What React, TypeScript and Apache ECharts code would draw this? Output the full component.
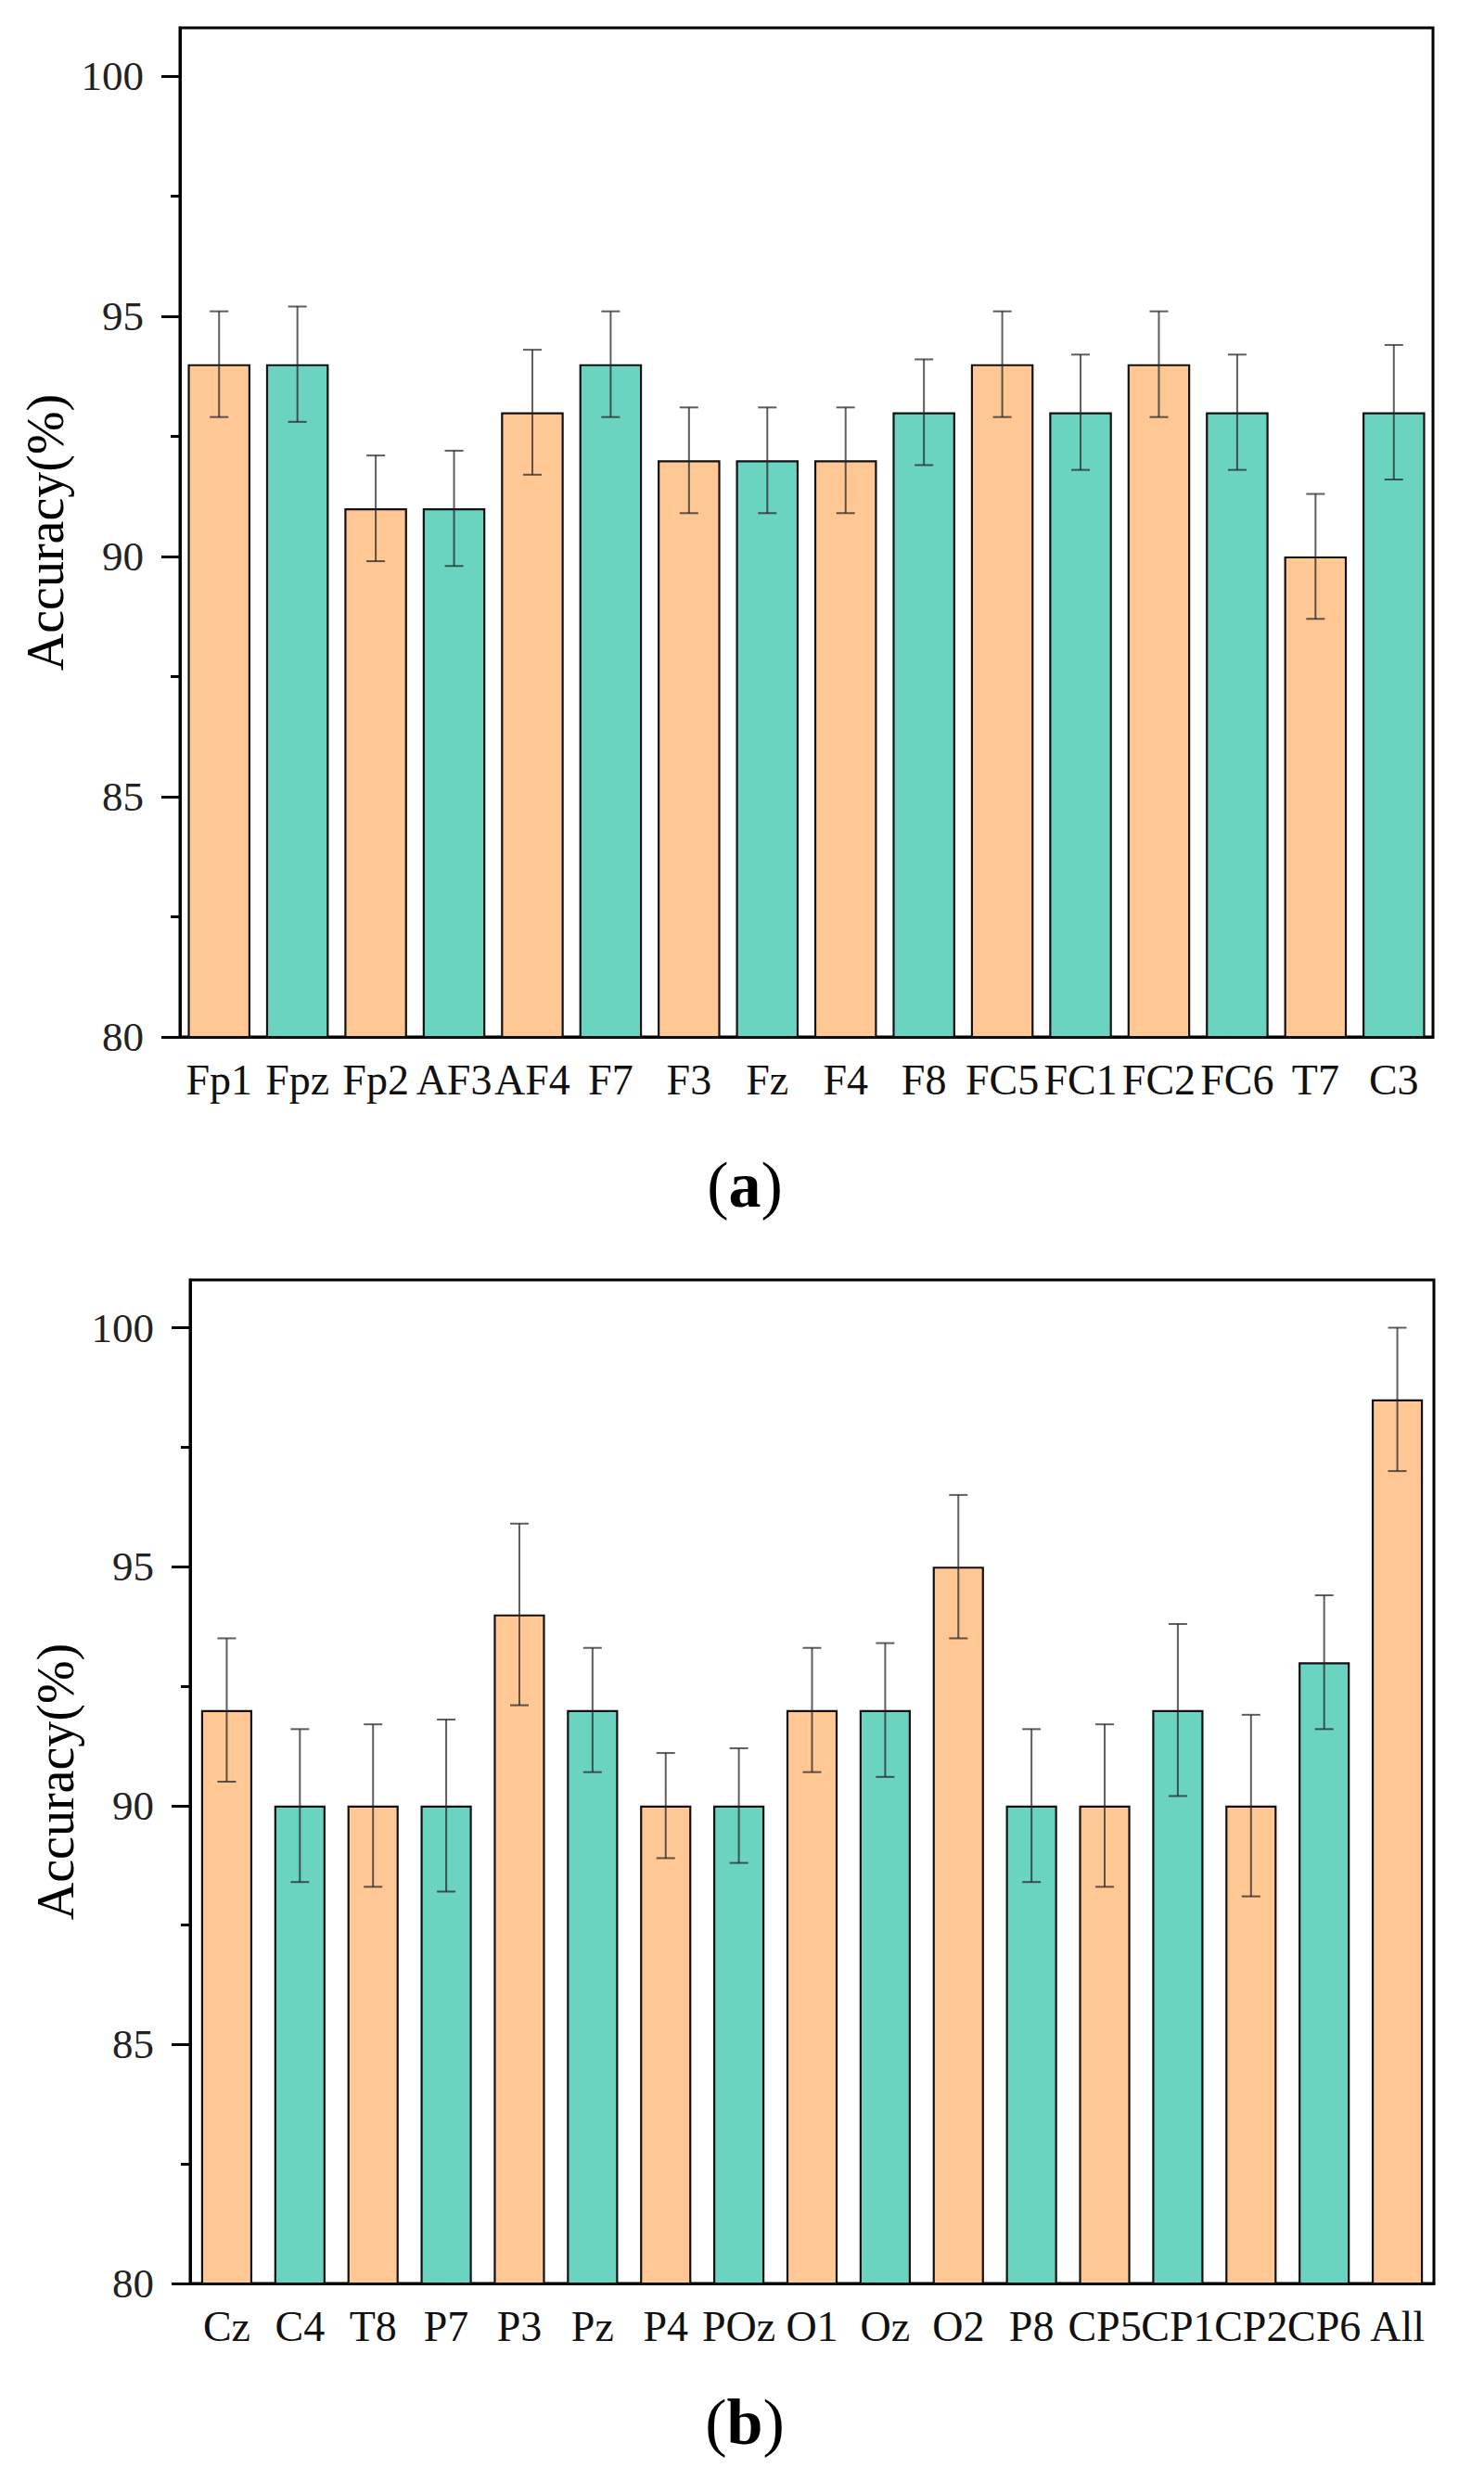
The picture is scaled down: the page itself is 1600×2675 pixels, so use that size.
import React, { useEffect, useRef } from 'react';
import * as echarts from 'echarts';

const categoriesA = ['Fp1', 'Fpz', 'Fp2', 'AF3', 'AF4', 'F7', 'F3', 'Fz', 'F4', 'F8', 'FC5', 'FC1', 'FC2', 'FC6', 'T7', 'C3'];
const valuesA = [94, 94, 91, 91, 93, 94, 92, 92, 92, 93, 94, 93, 94, 93, 90, 93];
const errorsA = [1.1, 1.2, 1.1, 1.2, 1.3, 1.1, 1.1, 1.1, 1.1, 1.1, 1.1, 1.2, 1.1, 1.2, 1.3, 1.4];

const categoriesB = ['Cz', 'C4', 'T8', 'P7', 'P3', 'Pz', 'P4', 'POz', 'O1', 'Oz', 'O2', 'P8', 'CP5', 'CP1', 'CP2', 'CP6', 'All'];
const valuesB = [92, 90, 90, 90, 94, 92, 90, 90, 92, 92, 95, 90, 90, 92, 90, 93, 98.5];
const errorsB = [1.5, 1.6, 1.7, 1.8, 1.9, 1.3, 1.1, 1.2, 1.3, 1.4, 1.5, 1.6, 1.7, 1.8, 1.9, 1.4, 1.5];

const yTickValues = [80, 85, 90, 95, 100];
const yMin = 80;
const yMax = 101;

const ORANGE = '#FEC794';
const TEAL = '#6AD4C1';
const FONT = "'Liberation Serif', 'Times New Roman', serif";

function makeYAxis(gridIndex: number) {
  return {
    type: 'value',
    gridIndex,
    min: yMin,
    max: yMax,
    interval: 5,
    name: 'Accuracy(%)',
    nameLocation: 'middle',
    nameRotate: 90,
    nameGap: 115,
    nameTextStyle: { fontSize: 56, fontFamily: FONT, color: '#000' },
    axisLine: { show: true, lineStyle: { color: '#000', width: 3 } },
    axisTick: { show: true, length: 20, customValues: yTickValues, lineStyle: { color: '#000', width: 3 } },
    minorTick: { show: true, splitNumber: 2, length: 10, lineStyle: { color: '#000', width: 3 } },
    splitLine: { show: false },
    minorSplitLine: { show: false },
    axisLabel: {
      customValues: yTickValues,
      fontSize: 45,
      fontFamily: FONT,
      color: '#222',
      margin: 39,
      formatter: (v: number) => (v > 100 ? '' : String(v)),
    },
  };
}

function makeXAxis(gridIndex: number, cats: string[]) {
  return {
    type: 'category',
    gridIndex,
    data: cats,
    axisLine: { show: true, lineStyle: { color: '#000', width: 3 } },
    axisTick: { show: false },
    splitLine: { show: false },
    axisLabel: { interval: 0, fontSize: 46, fontFamily: FONT, color: '#111', margin: 23 },
  };
}

function barSeries(idx: number, values: number[], gap: string) {
  return {
    type: 'bar',
    xAxisIndex: idx,
    yAxisIndex: idx,
    barCategoryGap: gap,
    z: 2,
    data: values.map((v, i) => ({
      value: v,
      itemStyle: { color: i % 2 === 0 ? ORANGE : TEAL, borderColor: '#111', borderWidth: 2.2 },
    })),
  };
}

function errorSeries(idx: number, values: number[], errors: number[]) {
  return {
    type: 'custom',
    xAxisIndex: idx,
    yAxisIndex: idx,
    z: 3,
    encode: { x: 0, y: 1 },
    data: values.map((v, i) => [i, v, errors[i]]),
    renderItem: (params: any, api: any) => {
      const x = api.value(0);
      const v = api.value(1);
      const e = api.value(2);
      const top = api.coord([x, v + e]);
      const bot = api.coord([x, v - e]);
      const cap = 10;
      const style = { stroke: 'rgba(40,40,40,0.75)', lineWidth: 2 };
      return {
        type: 'group',
        children: [
          { type: 'line', shape: { x1: top[0], y1: top[1], x2: bot[0], y2: bot[1] }, style },
          { type: 'line', shape: { x1: top[0] - cap, y1: top[1], x2: top[0] + cap, y2: top[1] }, style },
          { type: 'line', shape: { x1: bot[0] - cap, y1: bot[1], x2: bot[0] + cap, y2: bot[1] }, style },
        ],
      };
    },
  };
}

function caption(letter: string, x: number, y: number) {
  return {
    type: 'text',
    x,
    y,
    style: {
      text: '{p|(}{b|' + letter + '}{p|)}',
      align: 'center',
      verticalAlign: 'middle',
      rich: {
        p: { fontSize: 70, fontFamily: FONT, fill: '#000', color: '#000' },
        b: { fontSize: 70, fontFamily: FONT, fontWeight: 'bold', fill: '#000', color: '#000' },
      },
    },
  };
}

export default function App() {
  const ref = useRef<HTMLDivElement>(null);
  useEffect(() => {
    if (!ref.current) return;
    document.body.style.margin = '0';
    const chart = echarts.init(ref.current, undefined, { renderer: 'svg' });
    chart.setOption({
      animation: false,
      backgroundColor: '#fff',
      grid: [
        { left: 194, top: 30, width: 1351, height: 1088, show: true, borderColor: '#000', borderWidth: 3, backgroundColor: 'transparent' },
        { left: 205, top: 1380, width: 1341, height: 1082, show: true, borderColor: '#000', borderWidth: 3, backgroundColor: 'transparent' },
      ],
      xAxis: [makeXAxis(0, categoriesA), makeXAxis(1, categoriesB)],
      yAxis: [makeYAxis(0), makeYAxis(1)],
      series: [
        barSeries(0, valuesA, '20%'),
        errorSeries(0, valuesA, errorsA),
        barSeries(1, valuesB, '30%'),
        errorSeries(1, valuesB, errorsB),
      ],
      graphic: [caption('a', 803, 1277), caption('b', 803, 2611)],
    });
    return () => chart.dispose();
  }, []);
  return <div ref={ref} style={{ position: 'absolute', left: 0, top: 0, width: 1600, height: 2675 }} />;
}
